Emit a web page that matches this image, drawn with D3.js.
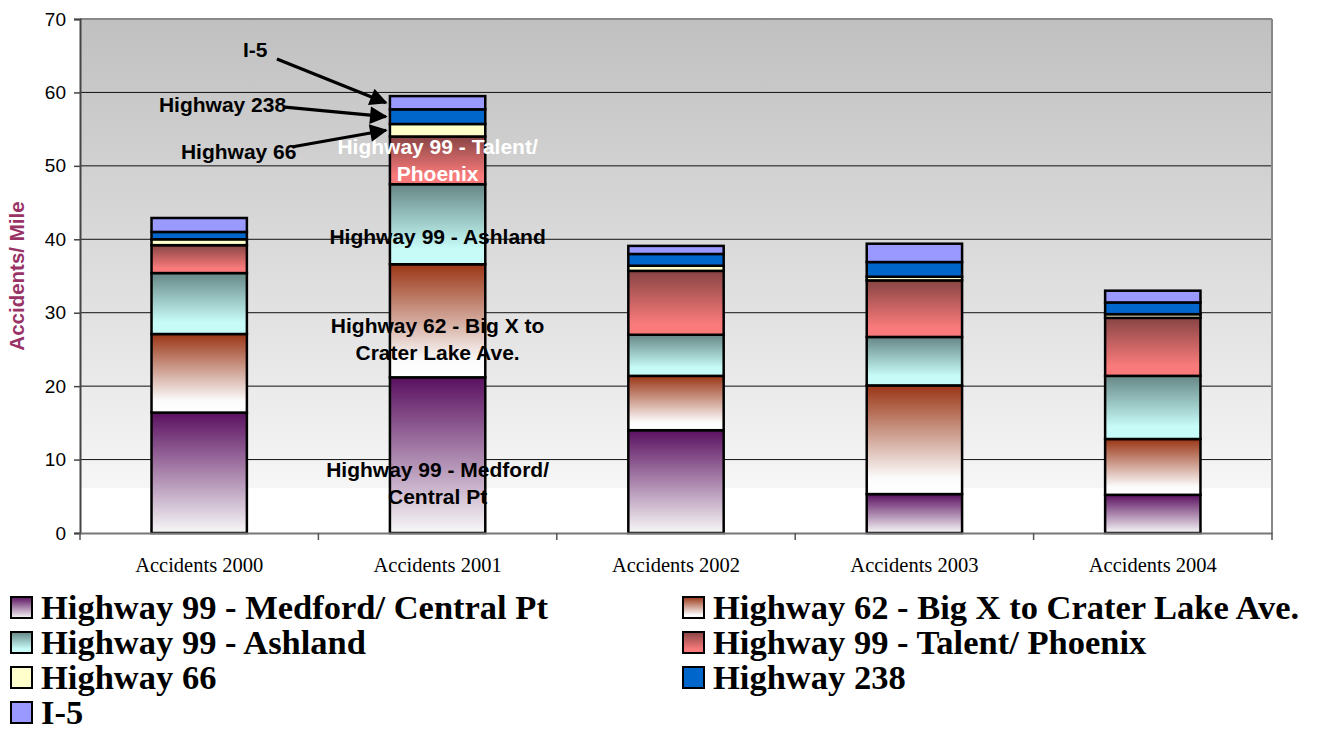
<!DOCTYPE html>
<html><head><meta charset="utf-8">
<script src="https://cdn.jsdelivr.net/npm/d3@7/dist/d3.min.js"></script>
<style>body{margin:0;background:#fff}svg{display:block}</style>
</head><body>
<svg id="c" width="1326" height="729"></svg>
<script>
const categories = ["Accidents 2000","Accidents 2001","Accidents 2002","Accidents 2003","Accidents 2004"];
const seriesNames = ["Highway 99 - Medford/ Central Pt","Highway 62 - Big X to Crater Lake Ave.","Highway 99 - Ashland","Highway 99 - Talent/ Phoenix","Highway 66","Highway 238","I-5"];
const medford = [16.4, 21.2, 14.0, 5.3, 5.2];
const hwy62   = [10.7, 15.4, 7.4, 14.8, 7.6];
const ashland = [8.3, 10.9, 5.6, 6.6, 8.6];
const talent  = [3.8, 6.5, 8.7, 7.7, 7.9];
const hwy66   = [0.8, 1.7, 0.7, 0.5, 0.5];
const hwy238  = [1.0, 2.0, 1.6, 2.0, 1.6];
const i5      = [1.9, 1.8, 1.1, 2.5, 1.6];
const yTicks = [0,10,20,30,40,50,60,70];
// inside-bar labels on the 2001 bar (value position of the label centre)
const inLabels = [
  {lines:["Highway 99 - Medford/","Central Pt"], v:6.75, color:"#000"},
  {lines:["Highway 62 - Big X to","Crater Lake Ave."], v:26.35, color:"#000"},
  {lines:["Highway 99 - Ashland"], v:40.4, color:"#000"},
  {lines:["Highway 99 - Talent/","Phoenix"], v:50.75, color:"#fff"}
];
// callouts with arrows: label text, label value-position, label x-offset from bar left, target series index
const callouts = [
  {text:"I-5", v:65.8, dx:-147, s:6, sx:-113, sv:64.55},
  {text:"Highway 238", v:58.4, dx:-231, s:5, sx:-105, sv:58.0},
  {text:"Highway 66", v:52.0, dx:-209, s:4, sx:-97, sv:52.6}
];

const grads = [
  [["0","#5a1060"],["1","#f8f8f8"]],
  [["0","#9a3515"],["0.85","#fbfbfb"],["1","#ffffff"]],
  [["0","#668786"],["0.8","#c6fbf7"],["1","#c6fbf7"]],
  [["0","#884444"],["0.82","#f87a7a"],["1","#f87a7a"]],
  [["0","#ffffcc"],["1","#ffffcc"]],
  [["0","#0066cc"],["1","#0066cc"]],
  [["0","#9999ff"],["1","#9999ff"]]
];

const svg = d3.select("#c");
const defs = svg.append("defs");
grads.forEach((g,i)=>{
  const lg = defs.append("linearGradient").attr("id","g"+i).attr("x1",0).attr("y1",0).attr("x2",0).attr("y2",1);
  g.forEach(s=>lg.append("stop").attr("offset",s[0]).attr("stop-color",s[1]));
});
const bg = defs.append("linearGradient").attr("id","bg").attr("x1",0).attr("y1",0).attr("x2",0).attr("y2",1);
[["0","#c0c0c0"],["0.912","#f6f6f6"],["0.912","#ffffff"],["1","#ffffff"]].forEach(s=>bg.append("stop").attr("offset",s[0]).attr("stop-color",s[1]));

const L=80, R=1272, T=19, B=533;
const x = d3.scaleBand().domain(categories).range([L,R]).paddingInner(0.6).paddingOuter(0.3);
const xb = d3.scaleBand().domain(categories).range([L,R]);
const y = d3.scaleLinear().domain([0,70]).range([B,T]);

svg.append("rect").attr("x",L).attr("y",T).attr("width",R-L).attr("height",B-T).attr("fill","url(#bg)");

// gridlines
svg.append("g").selectAll("line").data(yTicks.filter(d=>d>0 && d<70)).join("line")
  .attr("x1",L).attr("x2",R).attr("y1",d=>y(d)).attr("y2",d=>y(d))
  .attr("stroke","#111").attr("stroke-width",1);

// borders
svg.append("line").attr("x1",L).attr("x2",R).attr("y1",T).attr("y2",T).attr("stroke","#888").attr("stroke-width",2);
svg.append("line").attr("x1",R).attr("x2",R).attr("y1",T).attr("y2",B).attr("stroke","#888").attr("stroke-width",2);

// stacked data
const rows = categories.map((c,i)=>({cat:c, s0:medford[i], s1:hwy62[i], s2:ashland[i], s3:talent[i], s4:hwy66[i], s5:hwy238[i], s6:i5[i]}));
const stack = d3.stack().keys(["s0","s1","s2","s3","s4","s5","s6"])(rows);

svg.append("g").selectAll("g").data(stack).join("g")
  .attr("fill",(d,i)=>"url(#g"+i+")")
  .selectAll("rect").data(d=>d).join("rect")
  .attr("x",d=>x(d.data.cat)).attr("width",x.bandwidth())
  .attr("y",d=>y(d[1])).attr("height",d=>y(d[0])-y(d[1]))
  .attr("stroke","#000").attr("stroke-width",2.5);

// axes
const yAxis = svg.append("g").attr("transform",`translate(${L},0)`)
  .call(d3.axisLeft(y).tickValues(yTicks).tickSize(6).tickPadding(8));
yAxis.select(".domain").attr("stroke","#444").attr("stroke-width",2);
yAxis.selectAll(".tick line").attr("stroke","#444").attr("stroke-width",1.5);
yAxis.selectAll("text").attr("font-family","Liberation Sans, Arial, sans-serif").attr("font-size","19px").attr("fill","#000");

const xAxis = svg.append("g").attr("transform",`translate(0,${B})`)
  .call(d3.axisBottom(xb).tickSize(0).tickPadding(24));
xAxis.select(".domain").attr("stroke","#777").attr("stroke-width",2);
xAxis.selectAll("text").attr("font-family","Liberation Serif, Times New Roman, serif").attr("font-size","20.5px").attr("fill","#000");
// category separators ticks
svg.append("g").selectAll("line").data(categories.concat(["end"])).join("line")
  .attr("x1",(d,i)=>i<categories.length? xb(d): R).attr("x2",(d,i)=>i<categories.length? xb(d): R)
  .attr("y1",B).attr("y2",B+7).attr("stroke","#555").attr("stroke-width",1.5);

// y title
svg.append("text").attr("transform",`translate(24,${(T+B)/2}) rotate(-90)`)
  .attr("text-anchor","middle").attr("font-family","Liberation Sans, Arial, sans-serif")
  .attr("font-weight","bold").attr("font-size","20.5px").attr("fill","#993366").text("Accidents/ Mile");

// in-bar labels on 2001
const c01 = categories[1];
const cx = x(c01)+x.bandwidth()/2;
inLabels.forEach(l=>{
  const t = svg.append("text").attr("text-anchor","middle").attr("font-family","Liberation Sans, Arial, sans-serif")
    .attr("font-weight","bold").attr("font-size","21px").attr("fill",l.color);
  const n = l.lines.length;
  l.lines.forEach((ln,k)=>{
    t.append("tspan").attr("x",cx).attr("y",y(l.v)+(k-(n-1)/2)*27).attr("dy","0.35em").text(ln);
  });
});

// callouts
defs.append("marker").attr("id","arr").attr("viewBox","0 0 10 10").attr("refX",9).attr("refY",5)
  .attr("markerWidth",6.5).attr("markerHeight",5.5).attr("orient","auto").attr("markerUnits","strokeWidth")
  .append("path").attr("d","M0,0 L10,5 L0,10 Z").attr("fill","#000");
const barL = x(c01);
callouts.forEach(c=>{
  const seg = stack[c.s][1];
  const ty = y((seg[0]+seg[1])/2);
  svg.append("line").attr("x1",barL+c.sx).attr("y1",y(c.sv)).attr("x2",barL-4).attr("y2",ty)
    .attr("stroke","#000").attr("stroke-width",3.2).attr("marker-end","url(#arr)");
  svg.append("text").attr("x",barL+c.dx).attr("y",y(c.v)).attr("dy","0.35em")
    .attr("font-family","Liberation Sans, Arial, sans-serif").attr("font-weight","bold").attr("font-size","21px")
    .attr("fill","#000").text(c.text);
});

// legend
const lg = svg.append("g");
seriesNames.forEach((n,i)=>{
  const col = i%2, row = Math.floor(i/2);
  const lx = col===0 ? 10 : 682;
  const by = 618.5 + row*35;
  lg.append("rect").attr("x",lx+1).attr("y",by-21.5).attr("width",21).attr("height",21)
    .attr("fill","url(#g"+i+")").attr("stroke","#000").attr("stroke-width",2);
  lg.append("text").attr("x",lx+31).attr("y",by).attr("font-family","Liberation Serif, Times New Roman, serif")
    .attr("font-weight","bold").attr("font-size","34.5px").attr("fill","#000").text(n);
});
</script>
</body></html>
